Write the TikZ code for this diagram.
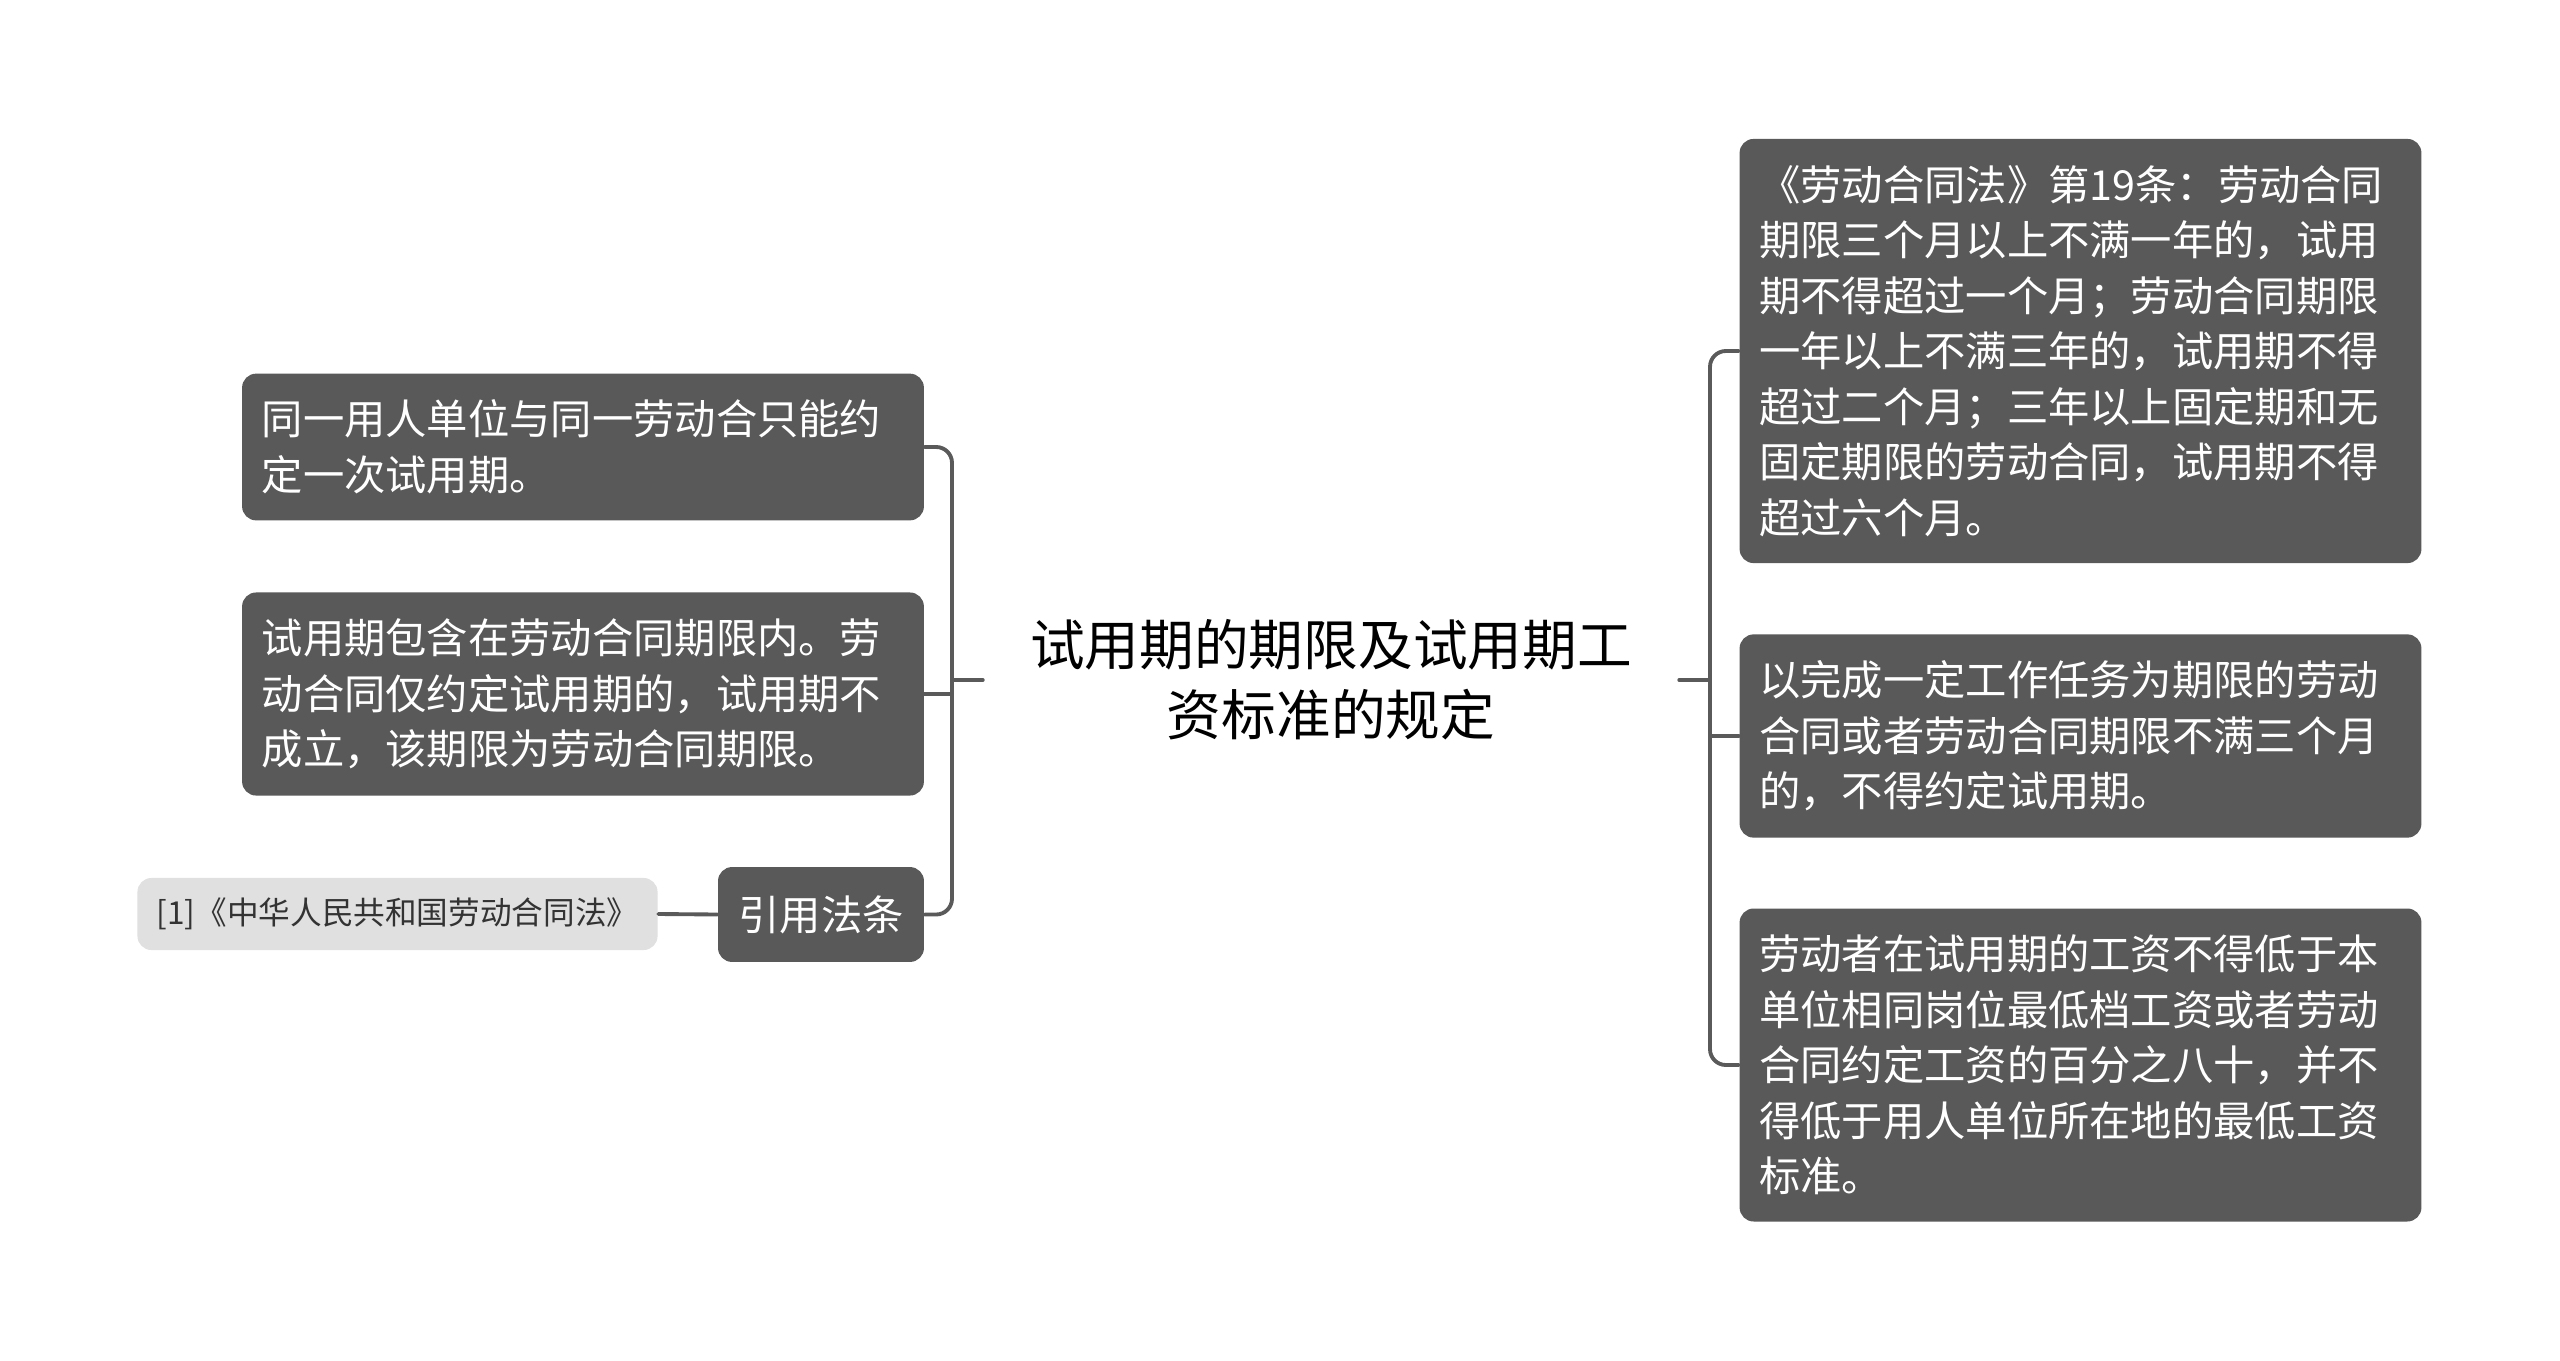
\documentclass[tikz,border=0pt]{standalone}
\usepackage{fontspec}
\setmainfont{Noto Sans CJK SC}
\usetikzlibrary{positioning}
\definecolor{boxgray}{HTML}{595959}
\definecolor{refgray}{HTML}{E0E0E0}
\definecolor{linegray}{HTML}{5A5A5A}
\definecolor{reftext}{HTML}{333333}
\tikzset{
  topic/.style={fill=boxgray,text=white,rounded corners=4pt,inner xsep=5.6pt,inner ysep=7.5pt,
    text width=182.8pt,align=left,font=\fontsize{11.75pt}{15.8pt}\selectfont},
  cite/.style={fill=boxgray,text=white,rounded corners=4pt,inner sep=0pt,minimum width=58.6pt,
    minimum height=27pt,font=\fontsize{11.75pt}{15.8pt}\selectfont},
  citeref/.style={fill=refgray,text=reftext,rounded corners=4pt,inner sep=0pt,minimum width=148pt,
    minimum height=20.5pt,font=\fontsize{9pt}{11pt}\selectfont},
  root/.style={align=center,inner xsep=13.3pt,inner ysep=4pt,font=\fontsize{15.56pt}{19.9pt}\selectfont},
  link/.style={draw=linegray,line width=1.1pt,rounded corners=4.5pt}
}
\begin{document}
\begin{tikzpicture}[line cap=round,line join=round,x=0.1mm,y=-0.1mm]
\useasboundingbox[fill=white] (0,0) rectangle (2560,1361);
\node[root] (title) at (1331,680) {试用期的期限及试用期工\\资标准的规定};
\node[topic] (b1) at (583,447) {同一用人单位与同一劳动合只能约\\定一次试用期。};
\node[topic] (b2) at (583,694) {试用期包含在劳动合同期限内。劳\\动合同仅约定试用期的，试用期不\\成立，该期限为劳动合同期限。};
\node[cite] (b3) at (821,914.5) {引用法条};
\node[citeref] (b4) at (397.5,914) {[1]《中华人民共和国劳动合同法》};
\node[topic] (r1) at (2080.5,351) {《劳动合同法》第19条：劳动合同\\期限三个月以上不满一年的，试用\\期不得超过一个月；劳动合同期限\\一年以上不满三年的，试用期不得\\超过二个月；三年以上固定期和无\\固定期限的劳动合同，试用期不得\\超过六个月。};
\node[topic] (r2) at (2080.5,736) {以完成一定工作任务为期限的劳动\\合同或者劳动合同期限不满三个月\\的，不得约定试用期。};
\node[topic] (r3) at (2080.5,1065) {劳动者在试用期的工资不得低于本\\单位相同岗位最低档工资或者劳动\\合同约定工资的百分之八十，并不\\得低于用人单位所在地的最低工资\\标准。};
\coordinate (lj) at (952,680);
\coordinate (rj) at (1710,680);
\draw[link] (title.west) -- (lj);
\draw[link] (b1.east) -| (lj) |- (b3.east);
\draw[link] (b2.east) -- (b2.east -| lj);
\draw[link] (b4.east) -- (b3.west);
\draw[link] (title.east) -- (rj);
\draw[link] (r1.west) -| (rj) |- (r3.west);
\draw[link] (r2.west) -- (r2.west -| rj);
\end{tikzpicture}
\end{document}
